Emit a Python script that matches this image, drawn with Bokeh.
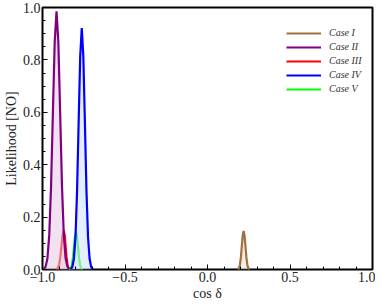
from bokeh.plotting import figure
from bokeh.models import Range1d, FixedTicker, Legend, LegendItem
from bokeh.embed import file_html
from bokeh.resources import INLINE

# ---- data ----
case1_x = [0.1805, 0.186, 0.1915, 0.197, 0.2025, 0.208, 0.2135, 0.219, 0.2245, 0.230, 0.2355, 0.241, 0.2465, 0.252, 0.2575]
case1_y = [0.0, 0.002, 0.006, 0.020, 0.048, 0.089, 0.130, 0.147, 0.130, 0.089, 0.048, 0.020, 0.006, 0.002, 0.0]

case2_x = [-0.992, -0.981, -0.970, -0.959, -0.948, -0.937, -0.926, -0.915, -0.904, -0.893, -0.882, -0.871, -0.860, -0.849, -0.838]
case2_y = [0.002, 0.011, 0.043, 0.133, 0.320, 0.598, 0.869, 0.985, 0.869, 0.598, 0.320, 0.133, 0.043, 0.011, 0.002]

case3_x = [-0.920, -0.913, -0.906, -0.899, -0.892, -0.885, -0.878, -0.871, -0.8655, -0.860, -0.8545, -0.849, -0.8435, -0.838, -0.8325]
case3_y = [0.0, 0.002, 0.007, 0.020, 0.048, 0.090, 0.131, 0.149, 0.131, 0.090, 0.048, 0.020, 0.007, 0.002, 0.0]

case4_x = [-0.8285, -0.819, -0.8095, -0.800, -0.7905, -0.781, -0.7715, -0.762, -0.7525, -0.743, -0.7335, -0.724, -0.7145, -0.705, -0.6955]
case4_y = [0.002, 0.010, 0.041, 0.124, 0.300, 0.560, 0.813, 0.922, 0.813, 0.560, 0.300, 0.124, 0.041, 0.010, 0.002]

case5_x = [-0.839, -0.833, -0.827, -0.821, -0.815, -0.809, -0.803, -0.797, -0.791, -0.785, -0.779, -0.773, -0.767, -0.761, -0.755]
case5_y = [0.0, 0.002, 0.006, 0.020, 0.047, 0.088, 0.128, 0.145, 0.128, 0.088, 0.047, 0.020, 0.006, 0.002, 0.0]

labels = ["Case I", "Case II", "Case III", "Case IV", "Case V"]

x_ticks = [-1.0, -0.5, 0.0, 0.5, 1.0]
x_tick_labels = ["\u22121.0", "\u22120.5", "0.0", "0.5", "1.0"]
y_ticks = [0.0, 0.2, 0.4, 0.6, 0.8, 1.0]
y_tick_labels = ["0.0", "0.2", "0.4", "0.6", "0.8", "1.0"]
x_minor = [-0.9, -0.8, -0.7, -0.6, -0.4, -0.3, -0.2, -0.1, 0.1, 0.2, 0.3, 0.4, 0.6, 0.7, 0.8, 0.9]
y_minor = [0.05, 0.1, 0.15, 0.25, 0.3, 0.35, 0.45, 0.5, 0.55, 0.65, 0.7, 0.75, 0.85, 0.9, 0.95]

# ---- styles ----
line_colors = ["#a0703f", "#800080", "#ff0000", "#0000ff", "#00ff00"]
fill_colors = ["#ece0d0", "#e6c8e6", "#ffd0d0", "#cfe0ff", "#d0ffd0"]
FONT = "Liberation Serif"

p = figure(frame_width=330, frame_height=262, output_backend="svg", toolbar_location=None,
           x_range=Range1d(-1, 1), y_range=Range1d(0, 1),
           min_border_left=1, min_border_right=3, min_border_top=7, min_border_bottom=1)
p.background_fill_color = "white"
p.border_fill_color = "white"
p.xgrid.visible = False
p.ygrid.visible = False
p.outline_line_color = "black"
p.outline_line_width = 2
p.outline_line_alpha = 1.0

for ax in (p.xaxis[0], p.yaxis[0]):
    ax.axis_line_color = None
    ax.major_tick_in = 5
    ax.major_tick_out = 0
    ax.minor_tick_in = 3
    ax.minor_tick_out = 0
    ax.major_tick_line_color = "black"
    ax.minor_tick_line_color = "black"
    ax.major_label_text_font = FONT
    ax.major_label_text_font_size = "14px"
    ax.major_label_text_color = "#222222"
    ax.axis_label_text_font = FONT
    ax.axis_label_text_font_size = "14px"
    ax.axis_label_text_font_style = "normal"
    ax.axis_label_text_color = "#222222"
    ax.major_label_standoff = 2
    ax.axis_label_standoff = 1

p.xaxis[0].ticker = FixedTicker(ticks=x_ticks, minor_ticks=x_minor)
p.xaxis[0].major_label_overrides = {t: l for t, l in zip(x_ticks, x_tick_labels)}
p.yaxis[0].ticker = FixedTicker(ticks=y_ticks, minor_ticks=y_minor)
p.yaxis[0].major_label_overrides = {t: l for t, l in zip(y_ticks, y_tick_labels)}
p.xaxis[0].axis_label = "cos \u03b4"
p.yaxis[0].axis_label = "Likelihood [NO]"

xs = [case1_x, case2_x, case3_x, case4_x, case5_x]
ys = [case1_y, case2_y, case3_y, case4_y, case5_y]

renderers = {}
# draw order: I, III, V, then II and IV on top
for i in [0, 2, 4, 1, 3]:
    p.varea(x=xs[i], y1=[0] * len(xs[i]), y2=ys[i], fill_color=fill_colors[i], fill_alpha=0.55)
    r = p.line(xs[i], ys[i], line_color=line_colors[i], line_width=2.2)
    renderers[i] = r

items = [LegendItem(label=labels[i], renderers=[renderers[i]]) for i in range(5)]
legend = Legend(items=items, location=(244, 175), padding=0, margin=0,
                spacing=3, label_height=10, glyph_height=10, glyph_width=35,
                label_standoff=8, border_line_color=None, background_fill_alpha=0,
                label_text_font=FONT, label_text_font_style="italic",
                label_text_font_size="10px", label_text_color="#333333")
p.add_layout(legend)

open("out.html", "w").write(file_html(p, INLINE))
